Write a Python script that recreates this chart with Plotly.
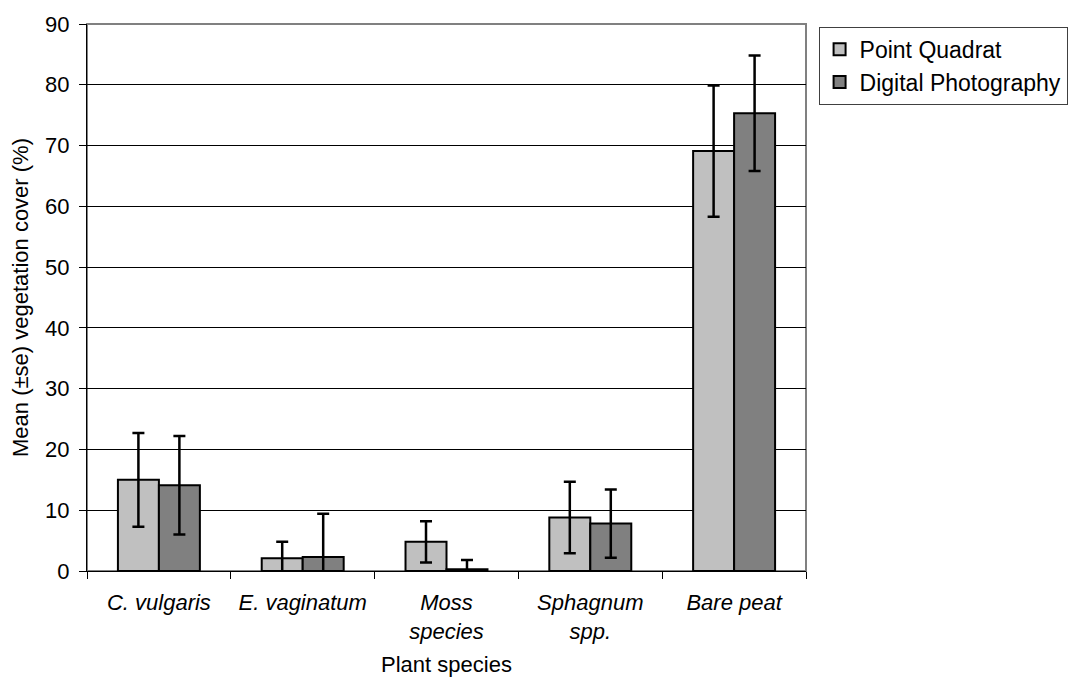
import plotly.graph_objects as go

categories = ["C. vulgaris", "E. vaginatum", "Moss<br>species", "Sphagnum<br>spp.", "Bare peat"]
pq_values = [15.0, 2.1, 4.8, 8.8, 69.1]
pq_errors = [7.7, 2.7, 3.4, 5.9, 10.8]
dp_values = [14.1, 2.3, 0.3, 7.8, 75.3]
dp_errors = [8.1, 7.1, 1.5, 5.6, 9.5]
y_ticks = [0, 10, 20, 30, 40, 50, 60, 70, 80, 90]

font_family = "Arial"

fig = go.Figure()
fig.add_trace(go.Bar(
    name="Point Quadrat", x=categories, y=pq_values,
    marker=dict(color="#C0C0C0", line=dict(color="black", width=2)),
    error_y=dict(type="data", array=pq_errors, visible=True, color="black", thickness=2.5, width=6),
))
fig.add_trace(go.Bar(
    name="Digital Photography", x=categories, y=dp_values,
    marker=dict(color="#808080", line=dict(color="black", width=2)),
    error_y=dict(type="data", array=dp_errors, visible=True, color="black", thickness=2.5, width=6),
))

fig.update_layout(
    width=1076, height=682,
    margin=dict(l=79, r=278, t=16, b=119, autoexpand=False),
    paper_bgcolor="white", plot_bgcolor="white",
    barmode="group", bargap=0.43, bargroupgap=0,
    font=dict(family=font_family, size=22, color="black"),
    legend=dict(
        x=1.0175, y=0.995, xanchor="left", yanchor="top",
        bordercolor="#404040", borderwidth=1, bgcolor="white",
        font=dict(size=23), tracegroupgap=0, itemwidth=30,
    ),
    shapes=[dict(type="rect", xref="paper", yref="paper", x0=0, y0=0, x1=1, y1=1,
                 line=dict(color="#808080", width=2), layer="below")],
)
fig.update_xaxes(
    automargin=False,
    showline=True, linecolor="black", linewidth=1,
    ticks="outside", tickson="boundaries", ticklen=7, tickcolor="black",
    ticklabelstandoff=12,
    tickfont=dict(family=font_family, size=22, style="italic"),
    title=dict(text="Plant species", font=dict(size=22), standoff=13),
    showgrid=False,
)
fig.update_yaxes(
    automargin=False,
    range=[0, 90], tickvals=y_ticks,
    showline=True, linecolor="black", linewidth=1,
    ticks="outside", ticklen=7, tickcolor="black",
    ticklabelstandoff=5,
    showgrid=True, gridcolor="black", gridwidth=1,
    zeroline=False,
    title=dict(text="Mean (±se) vegetation cover (%)", font=dict(size=22), standoff=10),
    tickfont=dict(size=22),
)

fig.write_html("out.html")
